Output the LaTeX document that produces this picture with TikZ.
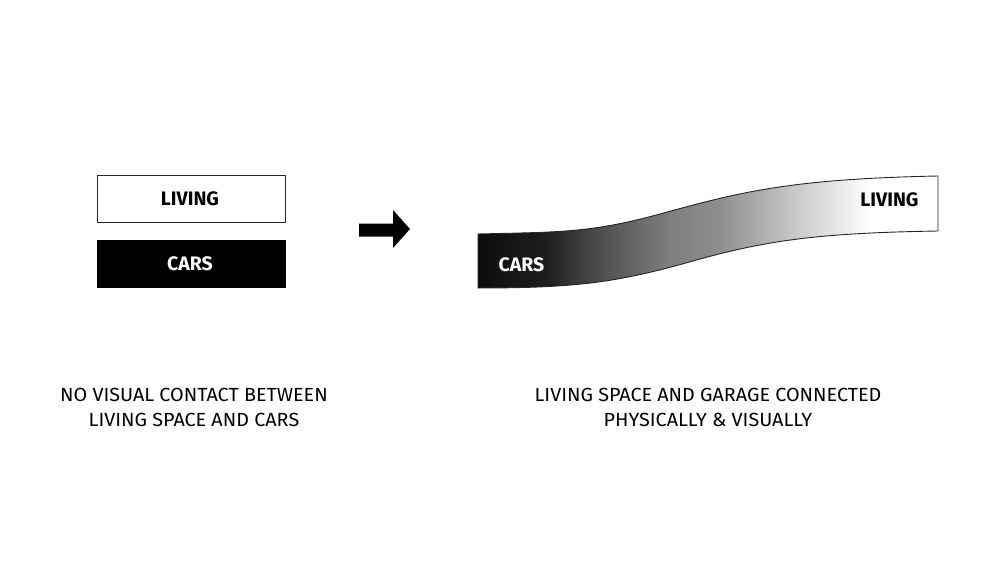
\documentclass[tikz,border=0pt]{standalone}
\usepackage{fontspec}
\setmainfont{Fira Sans}
\newfontfamily\capfont[FakeStretch=1.04]{Fira Sans}
\newfontfamily\lblfont{Fira Sans}
\pgfdeclarehorizontalshading{ribbonshade}{100bp}{color(0bp)=(black); color(25bp)=(black!95); color(32.5bp)=(black!88); color(38bp)=(black!70); color(46bp)=(black!50); color(51bp)=(black!45); color(60bp)=(black!20); color(67.6bp)=(white); color(100bp)=(white)}
\begin{document}
\begin{tikzpicture}[x=1pt,y=-1pt,
  lbl/.style={font=\lblfont\bfseries\fontsize{19.5}{19.5}\selectfont},
  captxt/.style={font=\capfont\fontsize{19}{24.5}\selectfont,align=center},
  boxw/.style={draw=black!85,line width=1pt,fill=white},
  boxb/.style={draw=black,line width=1pt,fill=black}]
\useasboundingbox (0,0) rectangle (1000,564);
\fill[white] (0,0) rectangle (1000,564);
% left boxes
\draw[boxw] (97,176) rectangle (285,222);
\node[lbl] (livL) at (190,199) {LIVING};
\draw[boxb] (97,240) rectangle (285,287);
\node[lbl,text=white] (carsL) at (190,264) {CARS};
% arrow
\fill[black] (359,223.5) -- (393,223.5) -- (393,210) -- (410,229) -- (393,248) -- (393,236.5) -- (359,236.5) -- cycle;
% ribbon
\path[shading=ribbonshade,draw=black!85,line width=0.9pt]
  (478,234) .. controls (560,232) and (590,233) .. (660,214)
  .. controls (740,192) and (790,179) .. (938,176)
  -- (938,231)
  .. controls (820,233) and (770,240) .. (700,259)
  .. controls (620,282) and (580,288) .. (478,288) -- cycle;
\node[lbl,text=white] (carsR) at (521.5,265) {CARS};
\node[lbl] (livR) at (889.5,200) {LIVING};
% captions
\node[captxt] (capL) at (194,407.5) {NO VISUAL CONTACT BETWEEN\\LIVING SPACE AND CARS};
\node[captxt] (capR) at (708,407.5) {LIVING SPACE AND GARAGE CONNECTED\\PHYSICALLY \& VISUALLY};
\end{tikzpicture}
\end{document}
